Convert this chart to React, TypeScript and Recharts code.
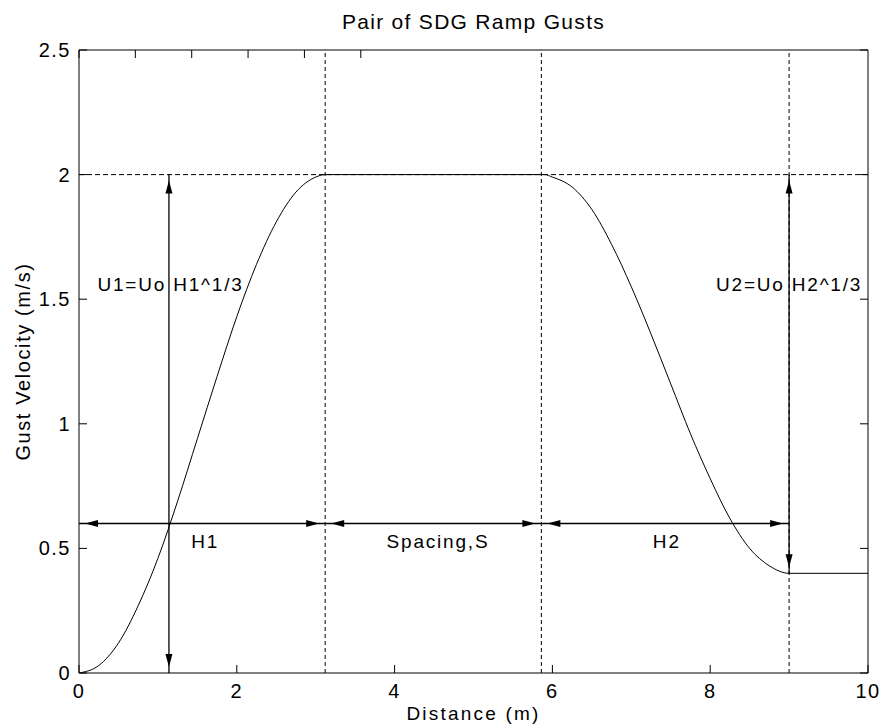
import { LineChart, Line, XAxis, YAxis, ReferenceLine, ReferenceDot } from 'recharts'

const FONT = '"Liberation Sans", Arial, Helvetica, sans-serif'

// gust profile: ramp up, plateau, ramp down, tail
const distance = [
  0, 0.25, 0.5, 0.75, 1, 1.25, 1.5, 1.75, 2, 2.25, 2.5, 2.75, 3, 3.12,
  5.9, 6, 6.25, 6.5, 6.75, 7, 7.25, 7.5, 7.75, 8, 8.25, 8.5, 8.75, 9, 10,
]
const gust = [
  0, 0.03, 0.12, 0.27, 0.46, 0.69, 0.94, 1.19, 1.43, 1.64, 1.81, 1.93, 1.99, 2,
  2, 1.99, 1.95, 1.86, 1.72, 1.55, 1.36, 1.16, 0.96, 0.78, 0.62, 0.5, 0.43, 0.4, 0.4,
]

const xTicks = [0, 2, 4, 6, 8, 10]
const yTicks = [0, 0.5, 1, 1.5, 2, 2.5]

// guide lines
const peakLevel = 2
const edgeDistances = [3.12, 5.86, 9]

// dimension arrows: [x1, y1, x2, y2]
const arrows = [
  [1.14, 0, 1.14, 2],
  [9, 0.4, 9, 2],
  [0, 0.6, 3.12, 0.6],
  [3.12, 0.6, 5.86, 0.6],
  [5.86, 0.6, 9, 0.6],
]

const notes = [
  { text: 'U1=Uo H1^1/3', x: 1.16, y: 1.56 },
  { text: 'U2=Uo H2^1/3', x: 9.0, y: 1.56 },
  { text: 'H1', x: 1.6, y: 0.53 },
  { text: 'Spacing,S', x: 4.55, y: 0.53 },
  { text: 'H2', x: 7.45, y: 0.53 },
]

const data = distance.map((d, i) => ({ distance: d, gust: gust[i] }))

function BottomTick({ x, y, payload }: any) {
  return (
    <g>
      <line x1={x} y1={y} x2={x} y2={y - 8} stroke="#000" />
      <text x={x} y={y + 25} textAnchor="middle" fontSize={20} fontFamily={FONT} letterSpacing={1.5} fill="#000">
        {payload.value}
      </text>
    </g>
  )
}

function LeftTick({ x, y, payload }: any) {
  return (
    <g>
      <line x1={x} y1={y} x2={x + 8} y2={y} stroke="#000" />
      <text x={x - 8} y={y + 7} textAnchor="end" fontSize={20} fontFamily={FONT} letterSpacing={1.5} fill="#000">
        {payload.value}
      </text>
    </g>
  )
}

function TopTick({ x, y }: any) {
  return <line x1={x} y1={y} x2={x} y2={y + 8} stroke="#000" />
}

function RightTick({ x, y }: any) {
  return <line x1={x} y1={y} x2={x - 8} y2={y} stroke="#000" />
}

function arrowHead(tx: number, ty: number, dx: number, dy: number) {
  const bx = tx - dx * 13
  const by = ty - dy * 13
  const px = -dy * 3.5
  const py = dx * 3.5
  return `M${tx},${ty} L${bx + px},${by + py} L${bx - px},${by - py} Z`
}

function DoubleArrow(props: any) {
  const { x1, y1, x2, y2 } = props
  const len = Math.hypot(x2 - x1, y2 - y1) || 1
  const ux = (x2 - x1) / len
  const uy = (y2 - y1) / len
  const inset = 6
  return (
    <g>
      <line x1={x1} y1={y1} x2={x2} y2={y2} stroke="#000" strokeWidth={1.3} />
      <path d={arrowHead(x1 + ux * inset, y1 + uy * inset, -ux, -uy)} fill="#000" />
      <path d={arrowHead(x2 - ux * inset, y2 - uy * inset, ux, uy)} fill="#000" />
    </g>
  )
}

function NoteText(text: string) {
  return (props: any) => (
    <text x={props.cx} y={props.cy + 7} textAnchor="middle" fontSize={19} fontFamily={FONT} letterSpacing={1.8} fill="#000">
      {text}
    </text>
  )
}

export default function App() {
  return (
    <div style={{ position: 'absolute', left: 0, top: 0, background: '#fff' }}>
      <LineChart width={883} height={728} data={data} margin={{ top: 0, right: 0, bottom: 0, left: 0 }}>
        <XAxis
          dataKey="distance"
          type="number"
          domain={[0, 10]}
          ticks={xTicks}
          allowDataOverflow
          height={55}
          tickSize={0}
          tickMargin={0}
          tickLine={false}
          axisLine={{ stroke: '#000' }}
          tick={<BottomTick />}
          label={{
            content: (p: any) => (
              <text
                x={p.viewBox.x + p.viewBox.width / 2}
                y={p.viewBox.y + 47}
                textAnchor="middle"
                fontSize={19}
                fontFamily={FONT}
                letterSpacing={2.2}
                fill="#000"
              >
                Distance (m)
              </text>
            ),
          }}
        />
        <XAxis
          xAxisId="top"
          orientation="top"
          type="number"
          domain={[0, 10]}
          ticks={xTicks}
          allowDataOverflow
          height={50}
          tickSize={0}
          tickMargin={0}
          tickLine={false}
          axisLine={{ stroke: '#000' }}
          tick={<TopTick />}
          label={{
            content: (p: any) => (
              <text
                x={p.viewBox.x + p.viewBox.width / 2}
                y={29}
                textAnchor="middle"
                fontSize={21}
                fontFamily={FONT}
                letterSpacing={1.3}
                fill="#000"
              >
                Pair of SDG Ramp Gusts
              </text>
            ),
          }}
        />
        <YAxis
          type="number"
          domain={[0, 2.5]}
          ticks={yTicks}
          allowDataOverflow
          width={79}
          tickSize={0}
          tickMargin={0}
          tickLine={false}
          axisLine={{ stroke: '#000' }}
          tick={<LeftTick />}
          label={{
            content: (p: any) => {
              const cx = 30
              const cy = p.viewBox.y + p.viewBox.height / 2
              return (
                <text
                  x={cx}
                  y={cy}
                  transform={`rotate(-90 ${cx} ${cy})`}
                  textAnchor="middle"
                  fontSize={20}
                  fontFamily={FONT}
                  letterSpacing={1.6}
                  fill="#000"
                >
                  Gust Velocity (m/s)
                </text>
              )
            },
          }}
        />
        <YAxis
          yAxisId="right"
          orientation="right"
          type="number"
          domain={[0, 2.5]}
          ticks={yTicks}
          allowDataOverflow
          width={15}
          tickSize={0}
          tickMargin={0}
          tickLine={false}
          axisLine={{ stroke: '#000' }}
          tick={<RightTick />}
        />
        <ReferenceLine y={peakLevel} stroke="#000" strokeDasharray="5 3" />
        {edgeDistances.map((x) => (
          <ReferenceLine key={x} x={x} stroke="#000" strokeDasharray="4 3" />
        ))}
        <Line
          type="monotone"
          dataKey="gust"
          stroke="#000"
          strokeWidth={1}
          dot={false}
          isAnimationActive={false}
        />
        {arrows.map(([x1, y1, x2, y2], i) => (
          <ReferenceLine
            key={`arrow-${i}`}
            segment={[{ x: x1, y: y1 }, { x: x2, y: y2 }]}
            ifOverflow="visible"
            shape={DoubleArrow}
          />
        ))}
        {notes.map((n) => (
          <ReferenceDot key={n.text} x={n.x} y={n.y} r={0} ifOverflow="visible" shape={NoteText(n.text)} />
        ))}
      </LineChart>
    </div>
  )
}
